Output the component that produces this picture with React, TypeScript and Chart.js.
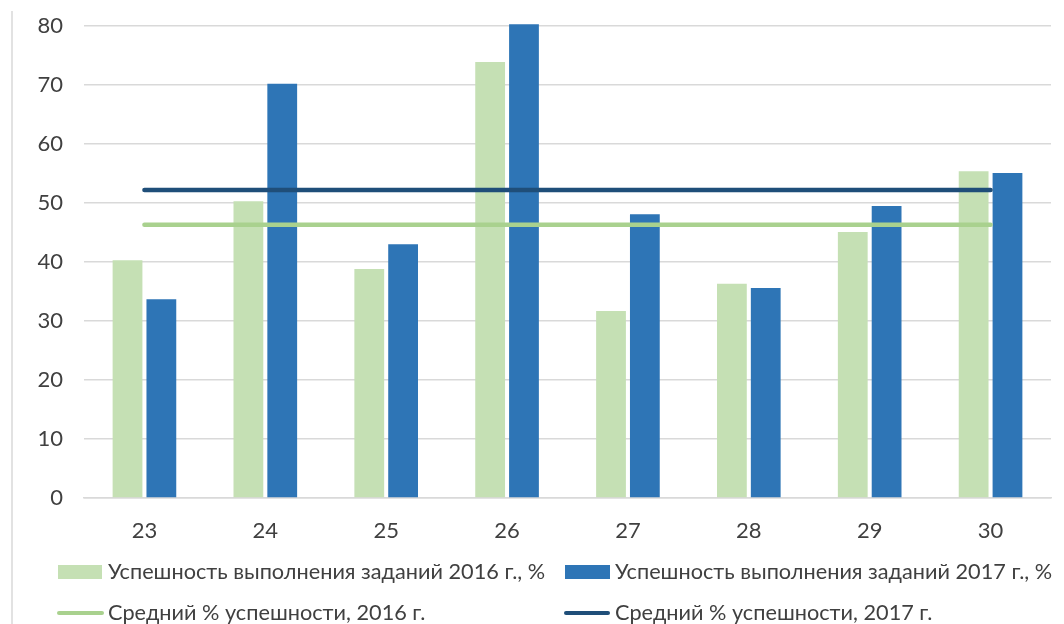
import React, { useEffect, useRef } from "react";
import { Chart, registerables } from "chart.js";

Chart.register(...registerables);

const categories = ["23", "24", "25", "26", "27", "28", "29", "30"];
const success2016 = [40.3, 50.3, 38.8, 73.9, 31.7, 36.3, 45.1, 55.4];
const success2017 = [33.7, 70.2, 43.0, 80.3, 48.1, 35.6, 49.5, 55.1];
const avg2016 = [46.3, 46.3, 46.3, 46.3, 46.3, 46.3, 46.3, 46.3];
const avg2017 = [52.2, 52.2, 52.2, 52.2, 52.2, 52.2, 52.2, 52.2];
const yTicks = [0, 10, 20, 30, 40, 50, 60, 70, 80];

const labels = [
  "Успешность выполнения заданий 2016 г., %",
  "Успешность выполнения заданий 2017 г., %",
  "Средний % успешности, 2016 г.",
  "Средний % успешности, 2017 г.",
];

const C_BAR16 = "#c5e0b4";
const C_BAR17 = "#2e75b6";
const C_AVG16 = "#a9d18e";
const C_AVG17 = "#1f4e79";
const TEXT = "#404040";
const GRID = "#d9d9d9";
const FONT = "Lato, 'Open Sans', sans-serif";

const legendPlugin = {
  id: "customLegend",
  afterDraw(chart: any) {
    const ctx = chart.ctx as CanvasRenderingContext2D;
    ctx.save();
    ctx.strokeStyle = GRID;
    ctx.lineWidth = 1.5;
    ctx.beginPath();
    ctx.moveTo(12, 11);
    ctx.lineTo(12, 624);
    ctx.stroke();

    ctx.font = `21.7px ${FONT}`;
    ctx.fillStyle = TEXT;
    ctx.textBaseline = "middle";
    ctx.textAlign = "left";
    const row1 = 572;
    const row2 = 613;
    ctx.fillStyle = C_BAR16;
    ctx.fillRect(58, 565, 44, 14);
    ctx.fillStyle = TEXT;
    ctx.fillText(labels[0], 108, row1);
    ctx.fillStyle = C_BAR17;
    ctx.fillRect(565, 565, 45, 14);
    ctx.fillStyle = TEXT;
    ctx.fillText(labels[1], 615, row1);
    ctx.lineCap = "round";
    ctx.lineWidth = 4;
    ctx.strokeStyle = C_AVG16;
    ctx.beginPath();
    ctx.moveTo(59, row2);
    ctx.lineTo(102, row2);
    ctx.stroke();
    ctx.fillText(labels[2], 108, row2);
    ctx.strokeStyle = C_AVG17;
    ctx.beginPath();
    ctx.moveTo(566, row2);
    ctx.lineTo(608, row2);
    ctx.stroke();
    ctx.fillText(labels[3], 615, row2);
    ctx.restore();
  },
};

export default function App() {
  const ref = useRef<HTMLCanvasElement | null>(null);
  useEffect(() => {
    document.body.style.margin = "0";
    const canvas = ref.current;
    if (!canvas) return;
    const chart = new Chart(canvas, {
      type: "bar",
      data: {
        labels: categories,
        datasets: [
          {
            type: "line",
            label: labels[3],
            data: avg2017,
            borderColor: C_AVG17,
            backgroundColor: C_AVG17,
            borderWidth: 4.5,
            borderCapStyle: "round",
            pointRadius: 0,
            order: 0,
          } as any,
          {
            type: "line",
            label: labels[2],
            data: avg2016,
            borderColor: C_AVG16,
            backgroundColor: C_AVG16,
            borderWidth: 4.5,
            borderCapStyle: "round",
            pointRadius: 0,
            order: 0,
          } as any,
          {
            type: "bar",
            label: labels[0],
            data: success2016,
            backgroundColor: C_BAR16,
            categoryPercentage: 0.56,
            barPercentage: 0.88,
            clip: 6,
            order: 1,
          } as any,
          {
            type: "bar",
            label: labels[1],
            data: success2017,
            backgroundColor: C_BAR17,
            categoryPercentage: 0.56,
            barPercentage: 0.88,
            clip: 6,
            order: 1,
          } as any,
        ],
      },
      options: {
        animation: false,
        responsive: true,
        maintainAspectRatio: false,
        layout: { padding: { left: 0, top: 26, right: 13, bottom: 0 } },
        plugins: {
          legend: { display: false },
          tooltip: { enabled: false },
        },
        scales: {
          x: {
            grid: { display: false, drawTicks: false },
            border: { display: true, color: GRID, width: 1.5 },
            ticks: {
              color: TEXT,
              font: { family: FONT, size: 22 },
              padding: 20,
              maxRotation: 0,
            },
            afterFit(scale: any) {
              scale.height = 126;
              scale.paddingLeft = 0;
              scale.paddingRight = 0;
            },
          },
          y: {
            min: 0,
            max: 80,
            afterBuildTicks(scale: any) {
              scale.ticks = yTicks.map((v) => ({ value: v }));
            },
            grid: { color: GRID, lineWidth: 1.5, drawTicks: false },
            border: { display: false },
            ticks: {
              color: TEXT,
              font: { family: FONT, size: 22 },
              padding: 21,
            },
            afterFit(scale: any) {
              scale.width = 84;
              scale.paddingTop = 0;
              scale.paddingBottom = 0;
            },
          },
        },
      },
      plugins: [legendPlugin],
    });
    return () => chart.destroy();
  }, []);
  return (
    <div style={{ width: 1064, height: 624, position: "relative" }}>
      <canvas ref={ref} />
    </div>
  );
}
